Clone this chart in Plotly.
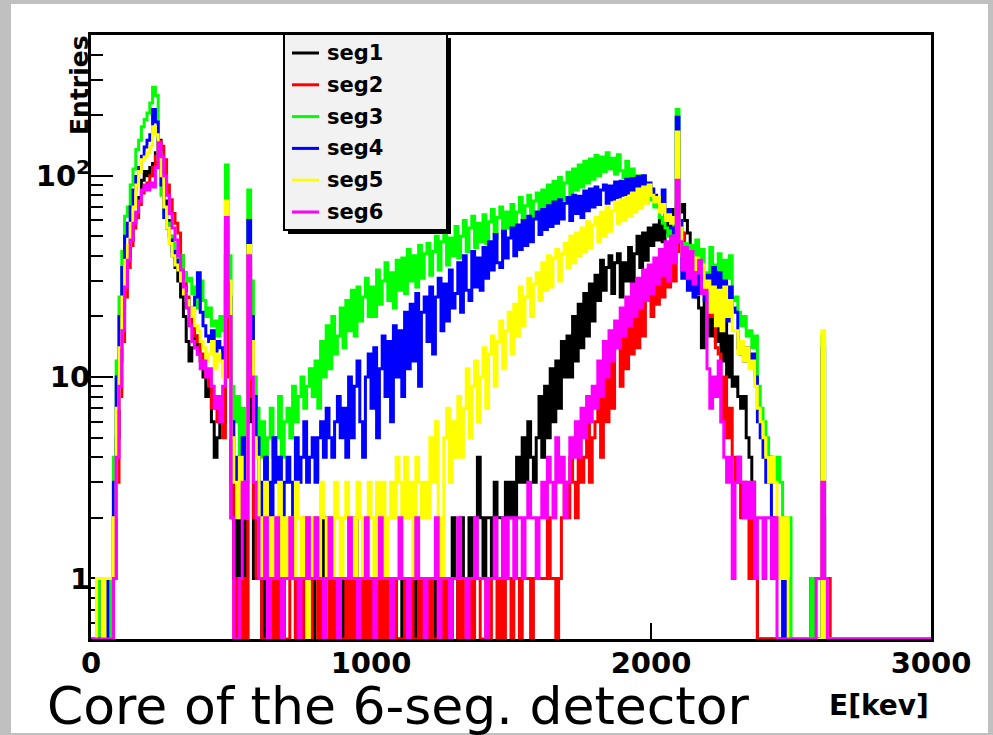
import numpy as np
import plotly.graph_objects as go

# ---------------- data (10 keV bins, 0..3000 keV); one line = 100 keV ----------------
BIN_EDGES_KEV = list(range(0, 3001, 10))
SERIES_NAMES = ["seg1", "seg2", "seg3", "seg4", "seg5", "seg6"]
SERIES_COLORS = ["#000000", "#ff0000", "#00ff00", "#0000ff", "#ffff00", "#ff00ff"]

seg1 = [0, 0, 0, 0, 0, 0, 0, 1, 2, 5,
        12, 22, 30, 40, 48, 58, 65, 78, 95, 105,
        100, 110, 115, 130, 150, 110, 75, 60, 50, 40,
        35, 30, 25, 20, 15, 12, 14, 16, 13, 12,
        10, 8, 9, 6, 4, 5, 7, 6, 40, 15,
        2, 1, 3, 1, 2, 0, 30, 6, 1, 1,
        1, 0, 2, 1, 1, 0, 1, 2, 0, 1,
        1, 2, 1, 0, 1, 1, 0, 2, 1, 0,
        2, 1, 0, 2, 1, 2, 1, 0, 1, 1,
        0, 1, 1, 0, 2, 0, 1, 0, 1, 0,
        1, 0, 0, 1, 0, 1, 0, 0, 1, 0,
        0, 1, 0, 0, 1, 0, 1, 0, 0, 1,
        0, 1, 0, 1, 0, 0, 1, 1, 0, 2,
        1, 0, 2, 1, 1, 2, 1, 2, 4, 2,
        1, 2, 2, 1, 3, 2, 2, 1, 3, 2,
        3, 2, 4, 3, 5, 3, 6, 4, 3, 5,
        8, 4, 9, 5, 11, 6, 12, 7, 15, 10,
        16, 10, 20, 12, 23, 14, 26, 16, 29, 19,
        32, 24, 38, 27, 35, 40, 26, 37, 41, 25,
        37, 30, 44, 29, 41, 50, 35, 52, 38, 55,
        45, 57, 48, 62, 47, 64, 52, 68, 55, 70,
        66, 72, 60, 52, 38, 40, 25, 22, 14, 26,
        24, 16, 26, 15, 22, 12, 19, 10, 16, 9,
        10, 8, 7, 8, 5, 4, 3, 1, 0, 0,
        0, 0, 0, 0, 0, 0, 0, 0, 0, 0,
        0, 0, 0, 0, 0, 0, 0, 1, 0, 0,
        0, 2, 0, 0, 0, 0, 0, 0, 0, 0,
        0, 0, 0, 0, 0, 0, 0, 0, 0, 0,
        0, 0, 0, 0, 0, 0, 0, 0, 0, 0,
        0, 0, 0, 0, 0, 0, 0, 0, 0, 0]

seg2 = [0, 0, 0, 0, 0, 0, 0, 0, 1, 3,
        8, 15, 25, 35, 45, 55, 62, 72, 82, 88,
        92, 100, 110, 125, 148, 140, 120, 90, 76, 65,
        58, 52, 40, 33, 25, 21, 18, 16, 15, 13,
        11, 10, 9, 7, 8, 6, 7, 5, 30, 10,
        3, 0, 1, 0, 1, 0, 35, 8, 2, 1,
        1, 0, 0, 1, 2, 0, 1, 0, 1, 0,
        0, 1, 1, 0, 1, 0, 2, 1, 0, 1,
        1, 0, 1, 0, 0, 1, 0, 1, 1, 0,
        0, 1, 0, 1, 0, 0, 1, 0, 1, 0,
        1, 0, 0, 1, 0, 1, 0, 0, 1, 0,
        0, 0, 1, 0, 1, 0, 0, 1, 0, 1,
        0, 1, 0, 0, 1, 0, 1, 0, 0, 1,
        1, 0, 1, 0, 0, 1, 0, 1, 1, 0,
        0, 1, 0, 1, 1, 0, 1, 0, 1, 1,
        0, 1, 1, 0, 1, 1, 1, 0, 1, 1,
        1, 1, 1, 2, 1, 1, 0, 1, 2, 3,
        2, 4, 3, 2, 5, 3, 4, 6, 3, 5,
        6, 9, 4, 11, 6, 12, 7, 14, 17, 9,
        18, 11, 20, 13, 23, 14, 26, 16, 24, 28,
        20, 31, 23, 35, 25, 38, 28, 40, 30, 42,
        48, 52, 41, 44, 35, 40, 33, 37, 30, 32,
        30, 20, 23, 14, 13, 6, 10, 5, 7, 4,
        3, 4, 2, 3, 2, 1, 2, 1, 0, 0,
        0, 0, 0, 0, 0, 0, 0, 0, 0, 0,
        0, 0, 0, 0, 0, 0, 0, 0, 0, 0,
        0, 0, 1, 1, 0, 0, 0, 0, 0, 0,
        0, 0, 0, 0, 0, 0, 0, 0, 0, 0,
        0, 0, 0, 0, 0, 0, 0, 0, 0, 0,
        0, 0, 0, 0, 0, 0, 0, 0, 0, 0]

seg3 = [0, 0, 1, 0, 1, 1, 0, 1, 4, 12,
        25, 42, 63, 70, 90, 108, 135, 150, 175, 190,
        205, 230, 275, 250, 130, 80, 65, 58, 50, 46,
        42, 38, 40, 33, 30, 31, 26, 28, 22, 30,
        24, 20, 22, 18, 19, 16, 20, 17, 113, 40,
        9, 6, 8, 4, 7, 5, 85, 30, 10, 7,
        4, 6, 3, 5, 7, 4, 5, 8, 4, 6,
        7, 5, 9, 6, 8, 10, 7, 9, 11, 8,
        12, 7, 15, 10, 18, 11, 20, 13, 16, 22,
        14, 24, 17, 27, 16, 28, 19, 25, 31, 20,
        28, 20, 34, 23, 30, 37, 24, 33, 22, 38,
        27, 39, 26, 43, 30, 40, 28, 45, 31, 41,
        46, 32, 42, 50, 34, 47, 54, 36, 49, 40,
        56, 39, 50, 60, 42, 55, 63, 44, 58, 47,
        64, 46, 59, 68, 49, 62, 70, 51, 66, 55,
        72, 54, 66, 78, 57, 71, 80, 60, 75, 82,
        66, 85, 62, 90, 70, 94, 72, 98, 76, 92,
        104, 80, 108, 85, 113, 88, 118, 92, 121, 96,
        126, 100, 124, 105, 130, 108, 122, 102, 127, 106,
        98, 118, 92, 108, 86, 100, 80, 94, 74, 88,
        76, 70, 72, 62, 58, 55, 50, 60, 48, 213,
        60, 40, 46, 34, 45, 31, 48, 35, 43, 32,
        33, 44, 36, 30, 41, 27, 38, 31, 40, 24,
        25, 21, 18, 20, 16, 17, 14, 16, 9, 7,
        6, 5, 4, 4, 3, 4, 3, 2, 2, 2,
        0, 0, 0, 0, 0, 0, 0, 1, 0, 0,
        0, 16, 0, 0, 0, 0, 0, 0, 0, 0,
        0, 0, 0, 0, 0, 0, 0, 0, 0, 0,
        0, 0, 0, 0, 0, 0, 0, 0, 0, 0,
        0, 0, 0, 0, 0, 0, 0, 0, 0, 0]

seg4 = [0, 0, 0, 0, 1, 0, 1, 1, 3, 10,
        20, 35, 50, 58, 70, 85, 99, 110, 125, 139,
        150, 160, 213, 185, 120, 90, 62, 55, 48, 42,
        38, 34, 33, 28, 24, 22, 20, 25, 33, 21,
        18, 16, 15, 17, 13, 15, 14, 12, 55, 25,
        6, 3, 4, 2, 5, 3, 60, 20, 8, 5,
        3, 2, 4, 3, 2, 5, 3, 4, 2, 3,
        4, 3, 2, 5, 3, 4, 6, 3, 4, 5,
        3, 5, 6, 4, 7, 5, 4, 6, 8, 5,
        7, 4, 10, 5, 9, 12, 6, 4, 10, 13,
        7, 14, 5, 11, 16, 8, 15, 6, 18, 10,
        17, 8, 21, 11, 23, 12, 26, 9, 21, 25,
        15, 28, 13, 25, 31, 17, 29, 19, 34, 22,
        26, 37, 21, 40, 27, 24, 42, 28, 39, 27,
        44, 31, 47, 34, 51, 37, 35, 53, 39, 49,
        55, 40, 57, 43, 60, 45, 63, 47, 61, 66,
        51, 68, 54, 71, 56, 74, 58, 76, 61, 73,
        78, 60, 80, 65, 79, 62, 84, 67, 86, 70,
        88, 72, 85, 90, 73, 89, 76, 93, 78, 94,
        80, 96, 82, 97, 84, 99, 86, 100, 88, 92,
        86, 80, 75, 70, 85, 62, 68, 55, 52, 195,
        60, 31, 36, 27, 37, 25, 35, 26, 33, 24,
        32, 23, 35, 25, 33, 21, 30, 19, 28, 22,
        21, 14, 13, 12, 14, 12, 13, 10, 6, 5,
        4, 3, 4, 2, 2, 1, 1, 0, 1, 0,
        0, 0, 0, 0, 0, 0, 0, 0, 0, 0,
        0, 14, 0, 0, 0, 0, 0, 0, 0, 0,
        0, 0, 0, 0, 0, 0, 0, 0, 0, 0,
        0, 0, 0, 0, 0, 0, 0, 0, 0, 0,
        0, 0, 0, 0, 0, 0, 0, 0, 0, 0]

seg5 = [0, 0, 1, 1, 0, 1, 1, 1, 2, 7,
        14, 25, 38, 45, 58, 70, 90, 105, 120, 124,
        130, 140, 175, 160, 120, 100, 70, 55, 46, 40,
        36, 34, 30, 26, 24, 20, 22, 18, 17, 15,
        14, 12, 13, 15, 11, 13, 12, 10, 75, 30,
        5, 3, 2, 4, 3, 2, 45, 15, 5, 4,
        2, 1, 3, 1, 2, 1, 2, 3, 1, 2,
        1, 2, 1, 3, 2, 1, 2, 0, 2, 1,
        2, 1, 3, 2, 1, 2, 1, 3, 2, 1,
        2, 3, 1, 2, 1, 3, 2, 1, 2, 3,
        2, 1, 3, 2, 3, 1, 2, 3, 2, 4,
        3, 2, 4, 2, 3, 1, 4, 3, 2, 3,
        2, 5, 3, 6, 2, 1, 5, 7, 3, 6,
        4, 8, 4, 7, 11, 5, 9, 12, 6, 10,
        14, 7, 13, 16, 9, 15, 19, 11, 17, 21,
        13, 23, 16, 28, 18, 25, 31, 20, 29, 33,
        24, 37, 27, 40, 28, 39, 43, 30, 41, 46,
        35, 50, 37, 52, 40, 55, 42, 59, 44, 57,
        62, 47, 66, 50, 70, 53, 67, 74, 58, 76,
        60, 78, 63, 82, 66, 86, 69, 88, 73, 90,
        80, 74, 78, 66, 72, 60, 64, 58, 62, 165,
        55, 40, 42, 37, 40, 34, 39, 33, 36, 27,
        30, 21, 28, 18, 27, 17, 28, 20, 24, 17,
        17, 13, 15, 12, 14, 11, 12, 9, 7, 6,
        5, 4, 3, 4, 3, 1, 2, 1, 2, 0,
        0, 0, 0, 0, 0, 0, 0, 0, 0, 0,
        0, 17, 0, 0, 0, 0, 0, 0, 0, 0,
        0, 0, 0, 0, 0, 0, 0, 0, 0, 0,
        0, 0, 0, 0, 0, 0, 0, 0, 0, 0,
        0, 0, 0, 0, 0, 0, 0, 0, 0, 0]

seg6 = [0, 0, 0, 0, 0, 0, 0, 0, 1, 4,
        9, 17, 28, 38, 48, 58, 66, 75, 85, 90,
        85, 92, 88, 110, 146, 125, 100, 80, 65, 55,
        48, 40, 34, 28, 22, 18, 15, 14, 13, 11,
        12, 10, 11, 9, 7, 8, 6, 9, 62, 20,
        2, 0, 0, 1, 3, 2, 40, 10, 3, 2,
        1, 1, 2, 0, 1, 1, 2, 1, 0, 1,
        1, 2, 1, 1, 0, 1, 1, 2, 1, 1,
        2, 1, 1, 0, 1, 2, 1, 1, 0, 1,
        1, 1, 2, 1, 1, 0, 1, 1, 2, 1,
        1, 0, 1, 2, 1, 1, 1, 0, 1, 1,
        2, 1, 1, 0, 1, 1, 2, 1, 1, 0,
        1, 1, 1, 2, 0, 1, 1, 1, 0, 1,
        1, 2, 1, 1, 0, 1, 1, 2, 1, 1,
        1, 0, 1, 1, 2, 1, 1, 2, 1, 2,
        2, 1, 2, 2, 1, 2, 3, 2, 2, 1,
        2, 3, 2, 4, 3, 2, 5, 3, 4, 2,
        3, 5, 4, 6, 4, 7, 5, 8, 6, 9,
        7, 12, 8, 15, 10, 17, 12, 19, 14, 22,
        16, 25, 18, 29, 20, 31, 22, 34, 24, 36,
        26, 39, 29, 43, 32, 47, 30, 50, 37, 95,
        47, 34, 44, 31, 42, 29, 33, 38, 26, 27,
        11, 7, 10, 8, 12, 6, 4, 3, 4, 1,
        3, 4, 3, 2, 3, 2, 3, 1, 2, 2,
        1, 2, 2, 1, 2, 0, 0, 0, 0, 0,
        0, 0, 0, 0, 0, 0, 0, 0, 0, 1,
        1, 3, 1, 0, 0, 0, 0, 0, 0, 0,
        0, 0, 0, 0, 0, 0, 0, 0, 0, 0,
        0, 0, 0, 0, 0, 0, 0, 0, 0, 0,
        0, 0, 0, 0, 0, 0, 0, 0, 0, 0]

SERIES_VALUES = [seg1, seg2, seg3, seg4, seg5, seg6]
X_TICKS = [0, 1000, 2000, 3000]
X_TICK_LABELS = ["0", "1000", "2000", "3000"]
Y_TICKS = [1, 10, 100]
Y_TICK_LABELS = ["1", "10", "10<sup>2</sup>"]
TITLE = "Core of the 6-seg. detector"
X_TITLE = "E[kev]"
Y_TITLE = "Entries"

YMIN, YMAX = 0.5, 500.0

# ---------------- layout geometry (pixels) ----------------
W, H = 993, 735
L, R, T, B = 91, 931, 35, 639


def px(x):
    return (x - L) / (R - L)


def py(y):
    return (B - y) / (B - T)


fig = go.Figure()
for name, color, vals in zip(SERIES_NAMES, SERIES_COLORS, SERIES_VALUES):
    assert len(vals) == len(BIN_EDGES_KEV) - 1, (name, len(vals))
    y = np.maximum(np.asarray(vals, dtype=float), YMIN)
    y = np.append(y, y[-1])
    fig.add_trace(go.Scatter(
        x=BIN_EDGES_KEV, y=y, mode="lines", name=name, showlegend=False,
        line=dict(color=color, width=3, shape="hv"),
        hoverinfo="skip"))

minor_vals = [m * 10 ** e for e in (-1, 0, 1, 2) for m in range(2, 10)
              if YMIN <= m * 10 ** e <= YMAX]

tickfont = dict(family="DejaVu Sans", size=29, color="black", weight="bold")

fig.update_layout(
    width=W, height=H,
    margin=dict(l=L, r=W - R, t=T, b=H - B, pad=0),
    paper_bgcolor="#c0c0c0", plot_bgcolor="white",
    showlegend=False,
    xaxis=dict(range=[0, 3000], tickmode="array", tickvals=X_TICKS, ticktext=X_TICK_LABELS,
               ticks="inside", ticklen=16, tickwidth=2, tickcolor="black",
               showline=True, linewidth=3, linecolor="black", mirror=True,
               showgrid=False, zeroline=False, tickfont=tickfont,
               ticklabelstandoff=-4, layer="below traces"),
    yaxis=dict(type="log", range=[np.log10(YMIN), np.log10(YMAX)],
               tickmode="array", tickvals=Y_TICKS, ticktext=Y_TICK_LABELS,
               ticks="inside", ticklen=22, tickwidth=2, tickcolor="black",
               minor=dict(tickmode="array", tickvals=minor_vals, ticks="inside",
                          ticklen=12, tickwidth=2, tickcolor="black", showgrid=False),
               showline=True, linewidth=3, linecolor="black", mirror=True,
               showgrid=False, zeroline=False, tickfont=tickfont,
               ticklabelstandoff=-8, layer="below traces"),
)

shapes = []
# white canvas
shapes.append(dict(type="rect", xref="paper", yref="paper", layer="below",
                   x0=px(11), x1=px(988), y0=py(733), y1=py(4),
                   fillcolor="white", line=dict(width=0)))
# legend shadow + box
shapes.append(dict(type="rect", xref="paper", yref="paper", layer="above",
                   x0=px(288), x1=px(451), y0=py(234), y1=py(38),
                   fillcolor="black", line=dict(width=0)))
shapes.append(dict(type="rect", xref="paper", yref="paper", layer="above",
                   x0=px(284), x1=px(447), y0=py(230), y1=py(34),
                   fillcolor="#f2f2f2", line=dict(color="black", width=2)))

annotations = []
row_y0, row_dy = 53, 31.8
for k, (name, color) in enumerate(zip(SERIES_NAMES, SERIES_COLORS)):
    yy = row_y0 + k * row_dy
    shapes.append(dict(type="line", xref="paper", yref="paper", layer="above",
                       x0=px(292), x1=px(319), y0=py(yy), y1=py(yy),
                       line=dict(color=color, width=3)))
    annotations.append(dict(text=name, xref="paper", yref="paper", x=px(325), y=py(yy),
                            xanchor="left", yanchor="middle", showarrow=False,
                            font=dict(family="DejaVu Sans", size=21, color="black", weight="bold")))

annotations.append(dict(text=Y_TITLE, xref="paper", yref="paper", x=px(79), y=py(33),
                        xanchor="center", yanchor="top", textangle=-90, showarrow=False,
                        font=dict(family="DejaVu Sans", size=25, color="black", weight="bold")))
annotations.append(dict(text=X_TITLE, xref="paper", yref="paper", x=px(931), y=py(705),
                        xanchor="right", yanchor="middle", showarrow=False,
                        font=dict(family="DejaVu Sans", size=28, color="black", weight="bold")))
annotations.append(dict(text=TITLE, xref="paper", yref="paper", x=px(45), y=py(706),
                        xanchor="left", yanchor="middle", showarrow=False,
                        font=dict(family="DejaVu Sans", size=52, color="black", weight="normal")))

fig.update_layout(shapes=shapes, annotations=annotations)
fig.write_html("out.html")
